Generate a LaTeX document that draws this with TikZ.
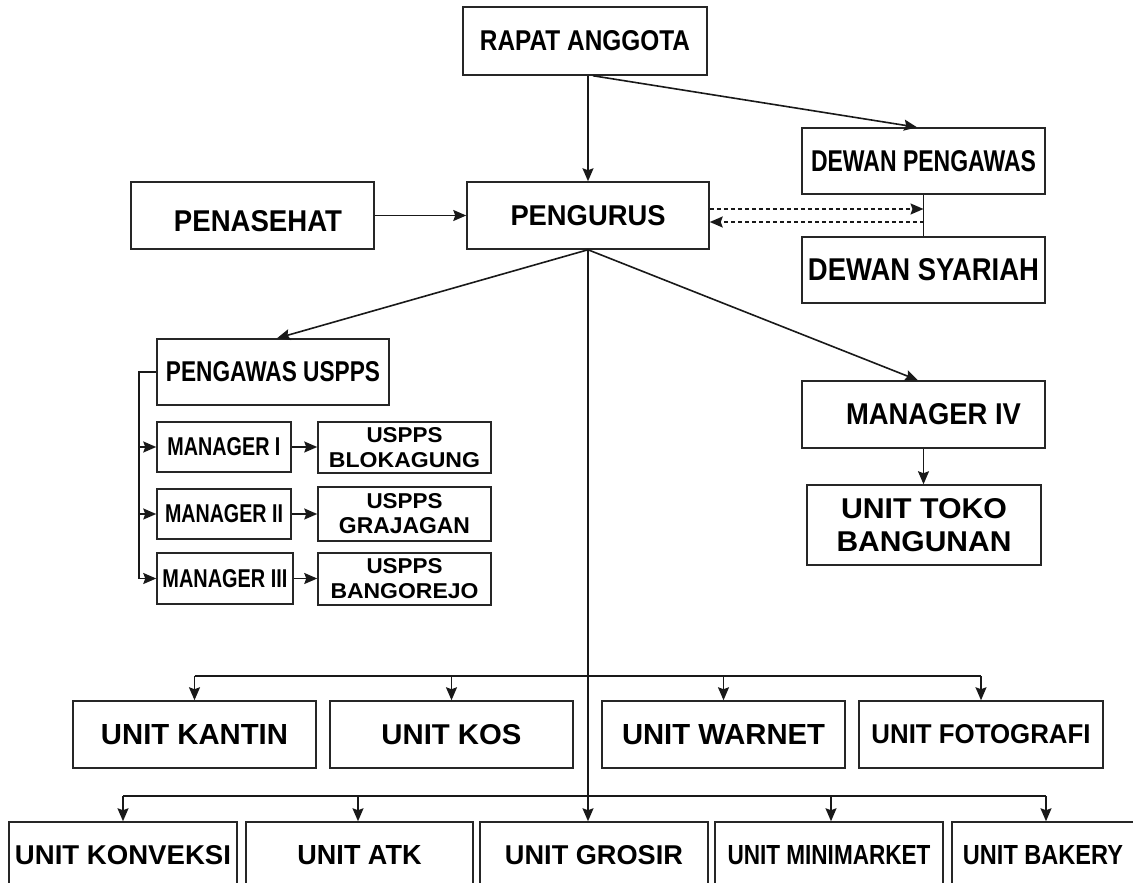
\documentclass[tikz,border=0pt]{standalone}
\usepackage{fontspec}
\setmainfont{Liberation Sans}
\usepackage{graphicx}
\usetikzlibrary{arrows.meta}
\newcommand{\lbl}[3]{\resizebox{#1pt}{#2pt}{\bfseries #3}}
\begin{document}
\begin{tikzpicture}[x=1pt,y=-1pt,
  box/.style={draw=black!85, line width=1.5pt, inner sep=0pt, align=center},
  ln/.style={line width=1.6pt, draw=black!90},
  arr/.style={ln, -{Stealth[length=13pt,width=11pt,inset=2pt]}},
  dotarr/.style={arr, dash pattern=on 4pt off 3pt},
  two/.style={font=\fontsize{10pt}{25pt}\selectfont},
  big/.style={minimum width=243pt, minimum height=67pt},
  low/.style={minimum height=67pt}]
\useasboundingbox (0,0) rectangle (1133,883);
\fill[white] (0,0) rectangle (1133,883);
\clip (0,0) rectangle (1133,883);

% top
\node[box, minimum width=244pt, minimum height=68pt] (RA) at (585,41) {\lbl{210}{20}{RAPAT ANGGOTA}};
\node[box, minimum width=242pt, minimum height=67pt] (PG) at (588,215.5) {\lbl{155}{20}{PENGURUS}};
\node[box, big, text height=31pt, text depth=0pt] (PN) at (252.5,215.5) {\hspace*{11pt}\lbl{168}{21}{PENASEHAT}};
\node[box, minimum width=243pt, minimum height=66pt] (DP) at (923.5,161) {\lbl{225}{21}{DEWAN PENGAWAS}};
\node[box, minimum width=243pt, minimum height=66pt] (DS) at (923.5,270) {\lbl{231}{22}{DEWAN SYARIAH}};

% left branch
\node[box, minimum width=232pt, minimum height=66pt] (PU) at (273,372) {\lbl{214}{20}{PENGAWAS USPPS}};
\node[box, minimum width=134pt, minimum height=50pt] (M1) at (224,447) {\lbl{113}{18}{MANAGER I}};
\node[box, minimum width=134pt, minimum height=50pt] (M2) at (224,514) {\lbl{118}{18}{MANAGER II}};
\node[box, minimum width=136pt, minimum height=51pt] (M3) at (225,578.5) {\lbl{125}{18}{MANAGER III}};
\node[box, two, minimum width=173pt, minimum height=51pt] (B1) at (404.5,447.5) {\lbl{76}{15}{USPPS}\\\lbl{151}{15}{BLOKAGUNG}};
\node[box, two, minimum width=173pt, minimum height=54pt] (B2) at (404.5,514) {\lbl{76}{15}{USPPS}\\\lbl{131}{16}{GRAJAGAN}};
\node[box, two, minimum width=173pt, minimum height=52pt] (B3) at (404.5,579) {\lbl{76}{15}{USPPS}\\\lbl{148}{15}{BANGOREJO}};

% right branch
\node[box, big] (M4) at (923.5,414.5) {\hspace*{20pt}\lbl{175}{21}{MANAGER IV}};
\node[box, minimum width=234pt, minimum height=80pt, font=\fontsize{10pt}{33pt}\selectfont] (TB) at (924,525) {\lbl{166}{20}{UNIT TOKO}\\\lbl{175}{20}{BANGUNAN}};

% units row 1
\node[box, big] (KA) at (194.5,734.5) {\lbl{187}{20}{UNIT KANTIN}};
\node[box, big] (KO) at (451.5,734.5) {\lbl{140}{20}{UNIT KOS}};
\node[box, big] (WA) at (723.5,734.5) {\lbl{203}{20}{UNIT WARNET}};
\node[box, minimum width=244pt, minimum height=67pt] (FO) at (981,734.5) {\lbl{219}{19}{UNIT FOTOGRAFI}};

% units row 2
\node[box, low, minimum width=228pt] (KV) at (123,855.5) {\lbl{216}{19}{UNIT KONVEKSI}};
\node[box, low, minimum width=227pt] (AT) at (359.5,855.5) {\lbl{124}{19}{UNIT ATK}};
\node[box, low, minimum width=228pt] (GR) at (594,855.5) {\lbl{178}{19}{UNIT GROSIR}};
\node[box, low, minimum width=228pt] (MM) at (829,855.5) {\lbl{203}{19}{UNIT MINIMARKET}};
\node[box, low, minimum width=182pt] (BK) at (1043,855.5) {\lbl{160}{19}{UNIT BAKERY}};

% connectors top
\draw[arr] (PG.north |- RA.south) -- (PG.north);
\draw[arr] ([xshift=8pt]RA.south) -- ([xshift=-6.5pt]DP.north);
\draw[arr] (PN.east) -- (PG.west);
\draw[dotarr] ([yshift=6.5pt]PG.east) -- ([yshift=6.5pt]PG.east -| DP.south);
\draw[dotarr] ([yshift=-6.5pt]PG.east -| DP.south) -- ([yshift=-6.5pt]PG.east);
\draw[ln] (DP.south) -- (DS.north);

% branches from PENGURUS
\draw[arr] (PG.south) -- ([xshift=4pt]PU.north);
\draw[arr] (PG.south) -- ([xshift=-5.5pt]M4.north);
\draw[arr] (M4.south) -- (M4.south |- TB.north);
\draw[arr] (PG.south) -- (PG.south |- GR.north);

% USPPS bracket
\draw[ln] (PU.west) -- ++(-17,0) coordinate (bk) -- (bk |- M3.west);
\draw[arr] (bk |- M1.west) -- (M1.west);
\draw[arr] (bk |- M2.west) -- (M2.west);
\draw[arr] (bk |- M3.west) -- (M3.west);
\draw[arr] (M1.east) -- (M1.east -| B1.west);
\draw[arr] (M2.east) -- (M2.east -| B2.west);
\draw[arr] (M3.east) -- (M3.east -| B3.west);

% unit buses
\coordinate (bus1) at (588,676);
\coordinate (bus2) at (588,796);
\draw[ln] (KA.north |- bus1) -- (FO.north |- bus1);
\draw[arr] (KA.north |- bus1) -- (KA.north);
\draw[arr] (KO.north |- bus1) -- (KO.north);
\draw[arr] (WA.north |- bus1) -- (WA.north);
\draw[arr] (FO.north |- bus1) -- (FO.north);
\draw[ln] (KV.north |- bus2) -- ([xshift=3pt]BK.north |- bus2);
\draw[arr] (KV.north |- bus2) -- (KV.north);
\draw[arr] ([xshift=-1.5pt]AT.north |- bus2) -- ([xshift=-1.5pt]AT.north);
\draw[arr] ([xshift=2pt]MM.north |- bus2) -- ([xshift=2pt]MM.north);
\draw[arr] ([xshift=3pt]BK.north |- bus2) -- ([xshift=3pt]BK.north);
\end{tikzpicture}
\end{document}
